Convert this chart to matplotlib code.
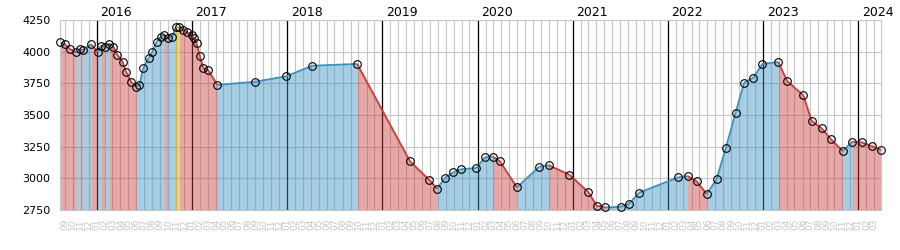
import datetime as dt

import matplotlib
matplotlib.use('Agg')
import matplotlib.pyplot as plt
import matplotlib.dates as mdates

# readings (date, value) taken off the chart
dates = ['2015-08-13', '2015-09-01', '2015-09-21', '2015-10-14', '2015-10-30',
         '2015-11-09', '2015-12-10', '2016-01-04', '2016-01-17', '2016-02-01',
         '2016-02-18', '2016-03-05', '2016-03-20', '2016-04-09', '2016-04-22',
         '2016-05-11', '2016-06-01', '2016-06-13', '2016-06-27', '2016-07-19',
         '2016-07-31', '2016-08-18', '2016-09-02', '2016-09-15', '2016-09-29',
         '2016-10-16', '2016-10-31', '2016-11-11', '2016-11-28', '2016-12-11',
         '2016-12-30', '2017-01-09', '2017-01-18', '2017-01-31', '2017-02-13',
         '2017-03-03', '2017-04-08', '2017-08-31', '2017-12-27', '2018-04-07',
         '2018-09-26', '2019-04-17', '2019-06-30', '2019-07-30', '2019-08-29',
         '2019-09-30', '2019-10-29', '2019-12-28', '2020-01-29', '2020-02-28',
         '2020-03-27', '2020-05-31', '2020-08-25', '2020-09-30', '2020-12-18',
         '2021-03-01', '2021-04-02', '2021-05-04', '2021-07-04', '2021-08-05',
         '2021-09-12', '2022-02-09', '2022-03-17', '2022-04-21', '2022-05-29',
         '2022-07-06', '2022-08-11', '2022-09-17', '2022-10-20', '2022-11-24',
         '2022-12-29', '2023-02-28', '2023-04-03', '2023-06-04', '2023-07-06',
         '2023-08-13', '2023-09-18', '2023-11-02', '2023-12-09', '2024-01-14',
         '2024-02-21', '2024-03-28']
values = [4074, 4058, 4019, 3995, 4019,
          4012, 4058, 4000, 4047, 4039,
          4063, 4039, 3974, 3921, 3842,
          3763, 3724, 3737, 3869, 3952,
          3995, 4079, 4118, 4132, 4108,
          4118, 4195, 4195, 4175, 4153,
          4132, 4106, 4066, 3962, 3869,
          3855, 3737, 3763, 3805, 3889,
          3903, 3134, 2987, 2918, 3005,
          3047, 3071, 3082, 3166, 3171,
          3134, 2929, 3092, 3103, 3029,
          2892, 2784, 2770, 2775, 2800,
          2887, 3008, 3018, 2976, 2876,
          2992, 3242, 3518, 3755, 3794,
          3903, 3918, 3768, 3655, 3453,
          3395, 3308, 3216, 3289, 3284,
          3255, 3224]
years = [2016, 2017, 2018, 2019, 2020, 2021, 2022, 2023, 2024]
y_ticks = [2750, 3000, 3250, 3500, 3750, 4000, 4250]

up_col = '#3990c2'
down_col = '#c83c3c'
flat_col = '#e8b800'

x = mdates.datestr2num(dates)

fig = plt.figure(figsize=(9, 2.5), dpi=100)
ax = fig.add_axes([60/900, 40/250, 821/900, 190/250])

ax.set_ylim(y_ticks[0], y_ticks[-1])
ax.set_yticks(y_ticks)
ax.set_xlim(x[0], x[-1])
ax.xaxis.set_major_locator(mdates.MonthLocator())
ax.xaxis.set_major_formatter(mdates.DateFormatter('%m'))
ax.tick_params(axis='x', length=0, labelsize=6.5, labelcolor='#c4c4c4',
               labelrotation=90, pad=6)
ax.tick_params(axis='y', length=0, labelsize=8, pad=7)
ax.grid(True, color='#c6c6c6', lw=0.8)
ax.set_axisbelow(True)
for s in ax.spines.values():
    s.set_color('#c6c6c6')
    s.set_linewidth(0.8)

# year lines + labels on top
for yr in years:
    xv = mdates.date2num(dt.date(yr, 1, 1))
    ax.axvline(xv, color='black', lw=0.9, zorder=0.6)
    ax.annotate(str(yr), xy=(xv, 1), xycoords=('data', 'axes fraction'),
                xytext=(2.5, 0.5), textcoords='offset points',
                ha='left', va='bottom', fontsize=9)

# segments: blue if rising, red if falling
for i in range(len(x) - 1):
    d = values[i+1] - values[i]
    c = up_col if d > 0 else (down_col if d < 0 else flat_col)
    a = 0.45 if d != 0 else 0.6
    ax.fill_between(x[i:i+2], values[i:i+2], y_ticks[0], color=c, alpha=a,
                    lw=0, antialiased=False, zorder=1)
    ax.plot(x[i:i+2], values[i:i+2], color=c, lw=1.3, zorder=2,
            solid_capstyle='butt')

ax.plot(x, values, ls='none', marker='o', ms=5.5, mfc='none', mec='black',
        mew=0.8, zorder=3, clip_on=False)

fig.savefig('out.png', dpi=100)
